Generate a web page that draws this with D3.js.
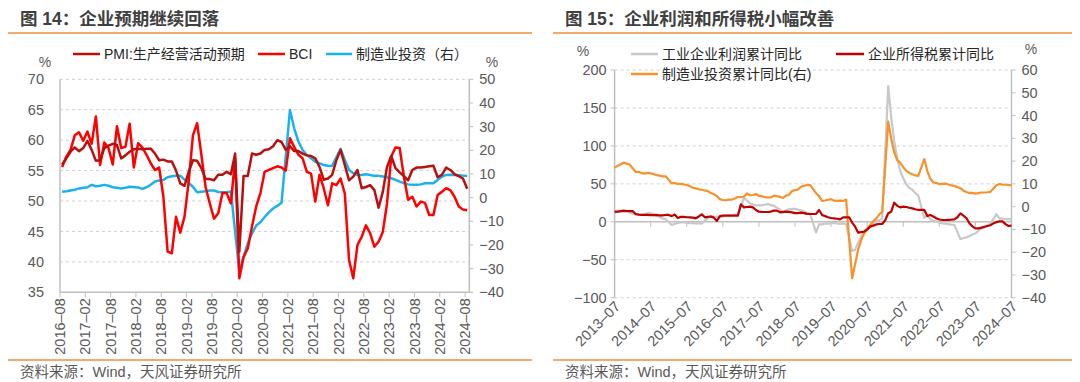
<!DOCTYPE html>
<html><head><meta charset="utf-8">
<script src="https://cdn.jsdelivr.net/npm/d3@7"></script>
<style>
body{margin:0;background:#fff;}
svg{display:block;font-family:"Liberation Sans","Noto Sans CJK SC",sans-serif;}
</style></head><body>
<svg id="c" width="1080" height="382"></svg>
<script>
// ---------- Left chart data (monthly 2016-08 .. 2024-08) ----------
const leftStart = [2016, 8], leftCount = 97;
const pmiExp = [56.0,57.0,58.1,58.8,58.2,58.7,59.9,58.4,56.6,56.7,
 58.7,59.1,59.4,59.2,57.0,57.5,58.1,58.5,58.6,58.5,
 58.6,58.6,57.8,56.7,56.8,56.5,56.5,55.0,52.9,52.5,
 54.8,56.7,56.6,55.4,53.6,53.6,53.4,54.3,54.3,54.8,
 54.4,57.8,41.7,54.1,54.1,57.8,57.6,57.8,58.4,58.5,
 59.0,60.0,59.7,58.4,59.0,58.2,58.2,57.8,57.5,57.4,
 57.0,55.6,53.5,53.7,54.3,56.7,58.4,55.9,53.4,54.0,
 55.1,52.1,52.3,52.6,51.8,48.9,51.5,55.6,57.4,55.4,
 54.7,54.1,53.4,55.1,55.5,55.5,55.6,55.7,55.8,53.9,
 54.3,55.5,55.1,54.4,54.1,53.7,52.0];
const bci = [55.6,57.3,58.4,60.8,61.3,59.9,61.4,59.4,63.9,55.9,
 59.6,58.7,56.0,62.3,58.7,58.9,62.7,55.5,59.5,58.8,
 57.6,56.2,55.1,55.5,50.7,41.7,41.4,47.4,44.8,47.4,
 53.2,60.8,62.8,57.6,52.3,49.6,47.1,48.0,51.3,51.3,
 49.6,57.0,37.3,40.8,42.2,45.8,49.1,51.3,54.8,55.1,
 55.4,55.7,55.5,55.0,60.3,58.9,57.6,57.0,54.8,54.5,
 49.9,54.3,52.1,49.3,52.9,52.6,53.7,51.2,40.3,37.3,
 42.8,44.1,46.0,44.7,42.5,43.3,44.9,49.6,57.3,58.8,
 58.7,54.0,50.2,50.7,49.1,49.9,49.7,47.7,47.7,51.0,
 51.5,52.1,51.8,50.7,49.1,48.6,48.5];
const mfgInv = [2.5,2.7,3.0,3.3,3.9,null,4.4,5.4,4.8,5.0,
 5.4,5.0,4.4,4.2,3.9,4.2,4.6,null,4.3,3.7,
 4.4,5.4,6.8,7.2,7.5,8.6,9.0,9.2,9.2,null,
 6.2,4.6,2.3,2.5,2.7,3.0,3.0,2.4,2.3,2.3,
 2.6,null,-31.3,-24.9,-19.3,-15.1,-11.8,-10.4,-8.2,-6.2,
 -4.6,-3.5,-2.2,null,37.0,29.3,23.7,20.1,18.0,16.6,
 15.2,14.5,13.8,13.5,13.4,null,20.6,15.9,11.7,10.3,
 9.6,9.6,9.9,9.6,9.2,9.2,8.9,null,8.2,7.5,
 6.8,6.1,5.6,5.4,5.4,5.6,6.1,6.1,6.1,null,
 8.9,9.6,9.7,9.6,9.5,9.3,9.1];
const leftYTicks = [35,40,45,50,55,60,65,70];
const leftYRTicks = [-40,-30,-20,-10,0,10,20,30,40,50];
const leftLegend = ["PMI:生产经营活动预期","BCI","制造业投资（右）"];

// ---------- Right chart data (monthly 2013-07 .. 2024-07) ----------
const rightStart = [2013, 7], rightCount = 133;
const profit = [11.1,13.0,13.4,13.7,13.2,12.2,
 null,9.4,9.6,9.6,9.6,11.4,11.6,10.0,7.9,6.7,4.2,3.3,
 null,-4.2,-2.7,-1.3,-0.8,-0.7,-1.0,-1.9,-1.7,-2.0,-1.9,-2.3,
 null,4.8,7.4,6.5,6.4,6.2,6.9,8.4,8.4,8.6,9.4,8.5,
 null,31.5,28.3,24.4,22.7,22.0,21.6,21.6,22.8,23.3,21.9,21.0,
 null,16.1,11.6,15.0,16.5,17.2,17.1,16.2,14.7,13.6,11.8,10.3,
 null,-14.0,-3.3,-3.4,-2.3,-2.4,-1.7,-1.7,-2.1,-2.9,-2.1,-3.3,
 null,-38.3,-36.7,-27.4,-19.3,-12.8,-8.1,-4.4,-2.4,0.7,2.4,4.1,
 null,178.9,137.3,106.0,83.4,66.9,57.3,49.5,44.7,42.2,38.0,34.3,
 null,5.0,8.5,3.5,1.0,1.0,-1.1,-2.1,-2.3,-3.0,-3.6,-4.0,
 null,-22.9,-21.4,-20.6,-18.8,-16.8,-15.5,-11.7,-9.0,-7.8,-4.4,-2.3,
 null,10.2,4.3,4.3,3.4,3.5,3.6];
const incomeTax = [13.3,13.5,14.0,14.7,14.2,14.0,
 14.0,10.3,9.5,9.0,9.0,9.2,8.8,8.8,9.0,8.5,8.5,9.0,
 9.0,7.5,9.5,5.0,6.5,6.5,6.0,5.9,5.5,4.6,7.0,9.9,
 5.9,6.5,7.0,5.5,1.1,7.5,8.1,8.1,8.1,8.1,8.1,8.1,
 23.0,19.0,19.5,20.0,19.0,15.5,13.3,13.0,12.9,12.9,13.5,14.7,
 14.7,12.5,13.0,13.5,13.0,12.5,11.5,11.5,12.0,11.5,10.5,10.3,
 10.3,10.5,15.6,9.0,7.5,6.0,5.0,4.5,4.0,3.3,5.9,5.9,
 5.9,-1.0,-6.4,-14.3,-13.5,-13.0,-10.0,-6.4,-5.0,-3.5,-2.9,-2.9,
 2.0,11.2,13.3,25.2,21.0,19.0,20.0,19.5,18.5,17.7,16.5,15.6,
 15.6,15.6,7.6,9.0,7.0,4.6,3.0,2.4,2.4,2.6,2.8,3.3,
 6.0,11.2,8.0,5.0,-2.0,-6.0,-8.6,-8.6,-7.7,-6.5,-5.5,-4.5,
 -2.0,-0.5,0.6,0.5,-3.0,-5.5,-5.1];
const mfgInvCum = [17.2,17.9,18.6,19.3,18.9,18.5,
 null,15.2,15.3,14.7,14.5,14.8,14.6,14.3,13.8,13.6,13.3,13.3,
 null,10.2,10.4,10.0,10.0,9.8,9.5,9.0,8.3,8.0,7.6,7.4,
 null,6.8,6.0,5.5,4.6,3.3,2.9,2.8,3.1,3.1,3.6,4.2,
 null,4.3,5.8,5.0,5.1,5.5,4.8,4.5,4.2,4.1,4.1,4.8,
 null,4.3,3.8,4.8,5.2,6.8,7.3,7.5,8.7,9.1,9.5,9.5,
 null,5.9,4.6,2.5,2.7,3.0,3.3,2.6,2.5,2.6,2.5,3.1,
 null,-31.5,-25.2,-18.8,-14.8,-11.7,-10.2,-8.1,-6.5,-5.3,-3.5,-2.2,
 null,37.3,29.8,23.8,20.4,19.2,17.3,15.7,14.8,14.2,13.7,13.5,
 null,20.9,15.6,12.2,10.6,10.4,9.9,10.0,10.1,9.7,9.3,9.1,
 null,8.1,7.0,6.4,6.0,6.0,5.7,5.9,6.2,6.2,6.3,6.5,
 null,9.4,9.9,9.7,9.6,9.5,9.3];
const rightYTicks = [-100,-50,0,50,100,150,200];
const rightYRTicks = [-40,-30,-20,-10,0,10,20,30,40,50,60];
const rightLegend = ["工业企业利润累计同比","企业所得税累计同比","制造业投资累计同比(右)"];

const titles = ["图 14：企业预期继续回落","图 15：企业利润和所得税小幅改善"];
const sourceText = "资料来源：Wind，天风证券研究所";

// ---------- helpers ----------
function monthList(start, n){
  const out=[]; let y=start[0], m=start[1];
  for(let i=0;i<n;i++){ out.push(y+"-"+String(m).padStart(2,"0")); m++; if(m>12){m=1;y++;} }
  return out;
}
const monthsL = monthList(leftStart, leftCount);
const monthsR = monthList(rightStart, rightCount);
const dash = s => s.replace("-", "–");
const minus = v => (v<0? "−"+Math.abs(v) : String(v));

const svg = d3.select("#c");
const GRID="#D0D0D0", AXIS="#BFBFBF", LBL="#595959";
const ORANGE_RULE="#F08C3C";

// titles & rules & sources
[[20,8,532],[565,553,1072]].forEach((p,i)=>{
  svg.append("text").attr("x",p[0]).attr("y",25).attr("font-size",17.5).attr("font-weight","bold")
    .attr("fill","#404040").text(titles[i]);
  svg.append("line").attr("x1",p[1]).attr("x2",p[2]).attr("y1",33).attr("y2",33)
    .attr("stroke",ORANGE_RULE).attr("stroke-width",1.5);
  svg.append("line").attr("x1",p[1]).attr("x2",p[2]).attr("y1",360).attr("y2",360)
    .attr("stroke",ORANGE_RULE).attr("stroke-width",1.5);
  svg.append("text").attr("x",p[0]).attr("y",377).attr("font-size",14.5).attr("fill","#595959").text(sourceText);
});

function drawLine(g, xs, ys, xf, vals, color, w){
  const pts = vals.map((v,i)=>({k:xs[i],v})).filter(d=>d.v!=null);
  g.append("path").datum(pts).attr("fill","none").attr("stroke",color).attr("stroke-width",w)
    .attr("stroke-linejoin","round")
    .attr("d", d3.line().x(d=>xf(d.k)).y(d=>ys(d.v)));
}

// ================= LEFT CHART =================
{
  const g = svg.append("g");
  const x0=60, x1=469.3, yT=79.3, yB=292.3;
  const x = d3.scaleBand().domain(monthsL).range([x0,x1]).paddingInner(0).paddingOuter(0);
  const cx = k => x(k)+x.bandwidth()/2;
  const y = d3.scaleLinear().domain([35,70]).range([yB,yT]);
  const yr = d3.scaleLinear().domain([-40,50]).range([yB,yT]);

  leftYTicks.filter(v=>v>35).forEach(v=>{
    g.append("line").attr("x1",x0).attr("x2",x1).attr("y1",y(v)).attr("y2",y(v))
      .attr("stroke",GRID).attr("stroke-dasharray","3,3");
  });
  g.append("line").attr("x1",x0).attr("x2",x0).attr("y1",yT).attr("y2",yB).attr("stroke",AXIS).attr("stroke-width",1.5);
  leftYTicks.forEach(v=>{
    g.append("text").attr("x",x0-16).attr("y",y(v)).attr("dy","0.35em").attr("text-anchor","end")
      .attr("font-size",14.5).attr("fill",LBL).text(v);
  });
  g.append("line").attr("x1",x1).attr("x2",x1).attr("y1",yT).attr("y2",yB).attr("stroke",AXIS).attr("stroke-width",1.5);
  leftYRTicks.forEach(v=>{
    g.append("line").attr("x1",x1).attr("x2",x1+4).attr("y1",yr(v)).attr("y2",yr(v)).attr("stroke",AXIS);
    g.append("text").attr("x",x1+10).attr("y",yr(v)).attr("dy","0.35em").attr("text-anchor","start")
      .attr("font-size",14.5).attr("fill",LBL).text(minus(v));
  });
  g.append("line").attr("x1",x0).attr("x2",x1).attr("y1",yB).attr("y2",yB).attr("stroke",AXIS).attr("stroke-width",1.5);
  monthsL.forEach((k,i)=>{
    if(i%6!==0) return;
    const tx = x(k);
    g.append("line").attr("x1",tx).attr("x2",tx).attr("y1",yB).attr("y2",yB+5).attr("stroke",AXIS);
    g.append("text").attr("transform",`translate(${tx},${yB+6}) rotate(-90)`).attr("dy","0.35em")
      .attr("text-anchor","end").attr("font-size",14.5).attr("fill",LBL).text(dash(k));
  });

  drawLine(g, monthsL, yr, cx, mfgInv, "#1AB2EC", 2.5);
  drawLine(g, monthsL, y, cx, bci, "#FF0000", 2.5);
  drawLine(g, monthsL, y, cx, pmiExp, "#B80F0F", 2.5);

  const leg = [[73,100,104,"#B80F0F"],[258,285,289,"#FF0000"],[326,352,356,"#1AB2EC"]];
  leg.forEach((l,i)=>{
    g.append("line").attr("x1",l[0]).attr("x2",l[1]).attr("y1",54).attr("y2",54).attr("stroke",l[3]).attr("stroke-width",2.5);
    g.append("text").attr("x",l[2]).attr("y",54).attr("dy","0.35em").attr("font-size",14)
      .attr("fill","#262626").text(leftLegend[i]);
  });
  g.append("text").attr("x",45).attr("y",62).attr("dy","0.35em").attr("text-anchor","middle").attr("font-size",14).attr("fill",LBL).text("%");
  g.append("text").attr("x",492).attr("y",62).attr("dy","0.35em").attr("text-anchor","middle").attr("font-size",14).attr("fill",LBL).text("%");
}

// ================= RIGHT CHART =================
{
  const g = svg.append("g");
  const x0=614.6, x1=1011.5, yT=70, yB=297.7;
  const x = d3.scalePoint().domain(monthsR).range([x0,x1]);
  const y = d3.scaleLinear().domain([-100,200]).range([yB,yT]);
  const yr = d3.scaleLinear().domain([-40,60]).range([yB,yT]);

  rightYTicks.filter(v=>v!==0).forEach(v=>{
    g.append("line").attr("x1",x0).attr("x2",x1).attr("y1",y(v)).attr("y2",y(v))
      .attr("stroke",GRID).attr("stroke-dasharray","3,3");
  });
  g.append("line").attr("x1",x0).attr("x2",x0).attr("y1",yT).attr("y2",yB).attr("stroke",AXIS).attr("stroke-width",1.5);
  rightYTicks.forEach(v=>{
    g.append("line").attr("x1",x0-4).attr("x2",x0).attr("y1",y(v)).attr("y2",y(v)).attr("stroke",AXIS);
    g.append("text").attr("x",x0-8).attr("y",y(v)).attr("dy","0.35em").attr("text-anchor","end")
      .attr("font-size",14.5).attr("fill",LBL).text(minus(v));
  });
  g.append("line").attr("x1",x1).attr("x2",x1).attr("y1",yT).attr("y2",yB).attr("stroke",AXIS).attr("stroke-width",1.5);
  rightYRTicks.forEach(v=>{
    g.append("line").attr("x1",x1).attr("x2",x1+4).attr("y1",yr(v)).attr("y2",yr(v)).attr("stroke",AXIS);
    g.append("text").attr("x",x1+10).attr("y",yr(v)).attr("dy","0.35em").attr("text-anchor","start")
      .attr("font-size",14.5).attr("fill",LBL).text(minus(v));
  });
  const y0 = y(0);
  g.append("line").attr("x1",x0).attr("x2",x1).attr("y1",y0).attr("y2",y0).attr("stroke",AXIS).attr("stroke-width",1.5);
  monthsR.forEach((k,i)=>{
    if(i%12!==0) return;
    const tx = x(k);
    g.append("line").attr("x1",tx).attr("x2",tx).attr("y1",y0).attr("y2",y0+5).attr("stroke",AXIS);
    g.append("text").attr("transform",`translate(${tx+3},${yB+6}) rotate(-45)`).attr("dy","0.35em")
      .attr("text-anchor","end").attr("font-size",14.5).attr("fill",LBL).text(dash(k));
  });

  drawLine(g, monthsR, y, x, profit, "#C8C8C8", 2.2);
  drawLine(g, monthsR, yr, x, mfgInvCum, "#F7912A", 2.2);
  drawLine(g, monthsR, y, x, incomeTax, "#C00000", 2.2);

  const leg = [[631,658,662,54,"#C8C8C8"],[836,864,868,54,"#C00000"],[631,658,662,74,"#F7912A"]];
  leg.forEach((l,i)=>{
    if(i===2) g.append("rect").attr("x",l[2]-2).attr("y",l[3]-9).attr("width",146).attr("height",18).attr("fill","#fff");
    g.append("line").attr("x1",l[0]).attr("x2",l[1]).attr("y1",l[3]).attr("y2",l[3]).attr("stroke",l[4]).attr("stroke-width",2.5);
    g.append("text").attr("x",l[2]).attr("y",l[3]).attr("dy","0.35em").attr("font-size",14)
      .attr("fill","#262626").text(rightLegend[i]);
  });
  g.append("text").attr("x",583).attr("y",51).attr("dy","0.35em").attr("text-anchor","middle").attr("font-size",14).attr("fill",LBL).text("%");
  g.append("text").attr("x",1031).attr("y",49).attr("dy","0.35em").attr("text-anchor","middle").attr("font-size",14).attr("fill",LBL).text("%");
}
</script>
</body></html>
